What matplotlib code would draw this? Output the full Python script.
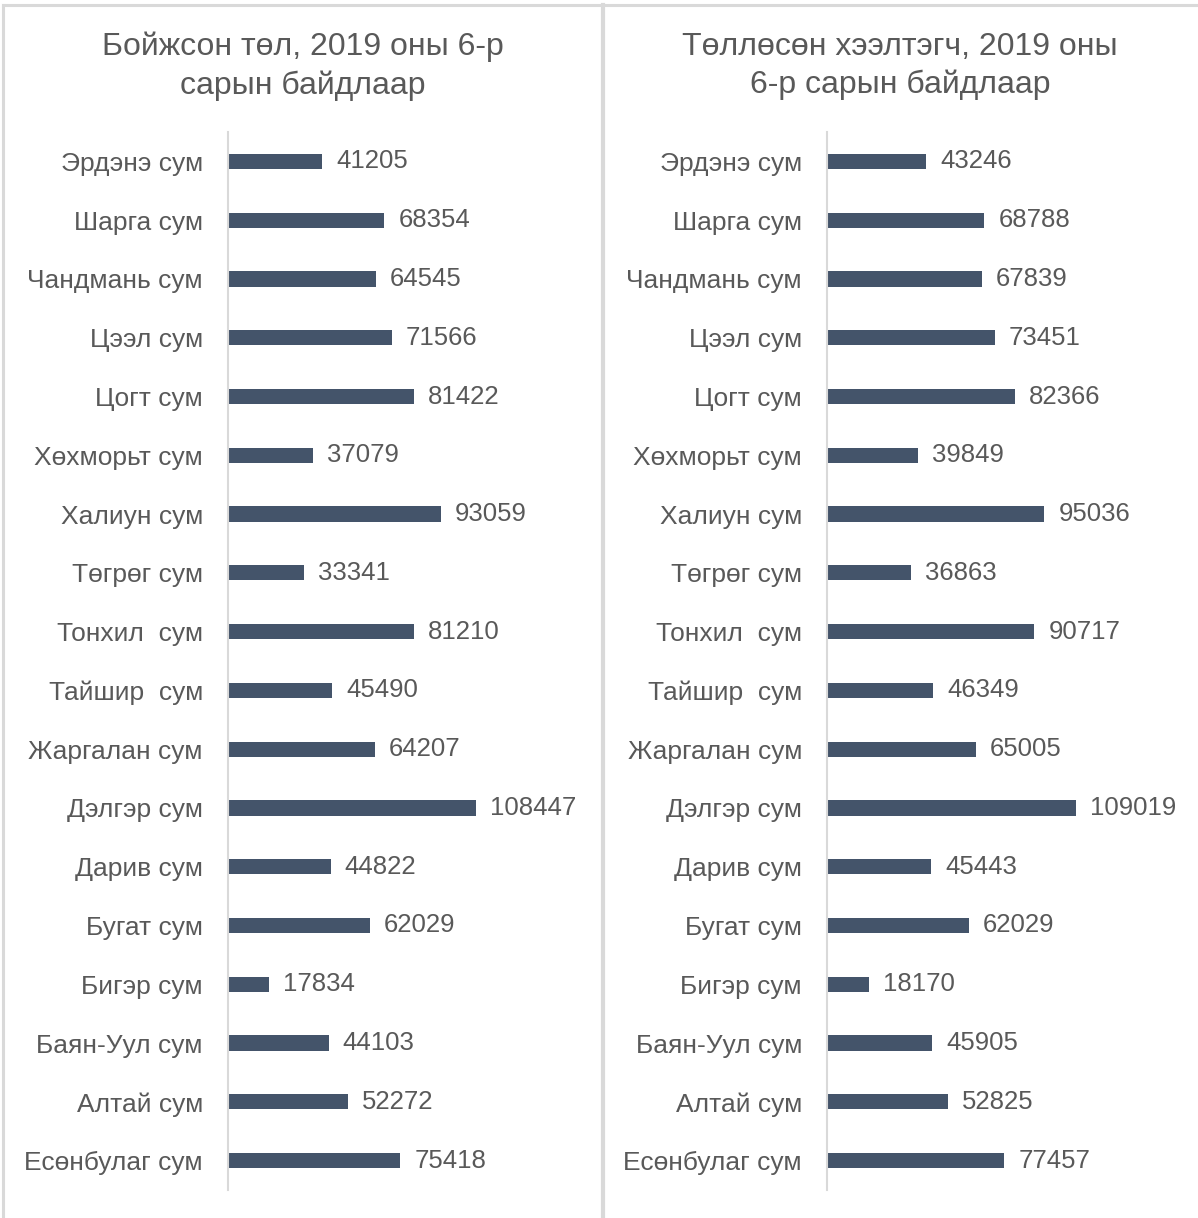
import matplotlib
matplotlib.use("Agg")
import matplotlib.pyplot as plt
from matplotlib.lines import Line2D

plt.rcParams['font.family'] = ['Liberation Sans', 'DejaVu Sans']

# sum names, top to bottom
sums = ["Эрдэнэ сум", "Шарга сум", "Чандмань сум", "Цээл сум", "Цогт сум",
        "Хөхморьт сум", "Халиун сум", "Төгрөг сум", "Тонхил  сум", "Тайшир  сум",
        "Жаргалан сум", "Дэлгэр сум", "Дарив сум", "Бугат сум", "Бигэр сум",
        "Баян-Уул сум", "Алтай сум", "Есөнбулаг сум"]

# Бойжсон төл
young = [41205, 68354, 64545, 71566, 81422, 37079, 93059, 33341, 81210,
         45490, 64207, 108447, 44822, 62029, 17834, 44103, 52272, 75418]

# Төллөсөн хээлтэгч
mothers = [43246, 68788, 67839, 73451, 82366, 39849, 95036, 36863, 90717,
           46349, 65005, 109019, 45443, 62029, 18170, 45905, 52825, 77457]

titles = ["Бойжсон төл, 2019 оны 6-р\nсарын байдлаар",
          "Төллөсөн хээлтэгч, 2019 оны\n6-р сарын байдлаар"]

W, H = 1198, 1218
bar_col = "#44546A"
txt_col = "#595959"
grid_col = "#D9D9D9"

fig = plt.figure(figsize=(W / 100, H / 100), dpi=100)

# panel frames
fig.add_artist(Line2D([3 / W, 1], [1 - 5 / H, 1 - 5 / H], color=grid_col, lw=2.2))
fig.add_artist(Line2D([3 / W, 3 / W], [0, 1 - 5 / H], color=grid_col, lw=2.2))
fig.add_artist(Line2D([603 / W, 603 / W], [0, 1 - 5 / H], color=grid_col, lw=3))

xmax = 120000
px_per_unit = 248 / 108447
ax_w = xmax * px_per_unit
for left, tx, vals, title in [(228, 303, young, titles[0]), (827, 900, mothers, titles[1])]:
    ax = fig.add_axes([left / W, (H - 1190) / H, ax_w / W, 1058 / H])
    pos = range(len(sums))
    ax.barh(pos, vals, height=0.26, color=bar_col)
    ax.set_xlim(0, xmax)
    ax.set_ylim(len(sums) - 0.5, -0.5)
    ax.set_yticks(list(pos))
    ax.set_yticklabels(sums, fontsize=19, color=txt_col)
    ax.tick_params(axis='y', length=0, pad=18)
    ax.set_xticks([])
    for s in ["top", "right", "bottom"]:
        ax.spines[s].set_visible(False)
    ax.spines["left"].set_color(grid_col)
    ax.spines["left"].set_linewidth(1.5)
    ax.patch.set_alpha(0)
    for i, v in enumerate(vals):
        ax.annotate(str(v), xy=(v, i), xytext=(14, 0), textcoords="offset pixels",
                    va="center", ha="left", fontsize=18.5, color=txt_col)
    fig.text(tx / W, 1 - 66 / H, title, ha="center", va="center", fontsize=23,
             color=txt_col, linespacing=1.35)

fig.savefig("out.png", dpi=100, facecolor="white")
